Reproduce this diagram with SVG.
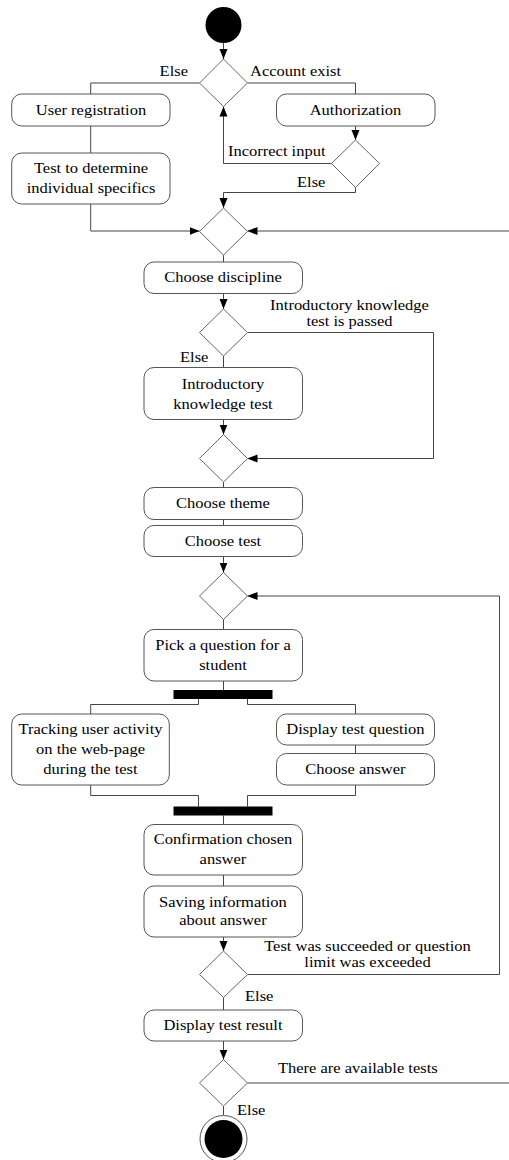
<svg xmlns="http://www.w3.org/2000/svg" width="509" height="1160" viewBox="0 0 509 1160" font-family="'Liberation Serif', 'Times New Roman', serif" font-size="15">
<style>
.box{fill:#fff;stroke:#555;stroke-width:1}
.dia{fill:#fff;stroke:#666;stroke-width:1}
.ln{fill:none;stroke:#444;stroke-width:1}
.arr{fill:none;stroke:#444;stroke-width:1;marker-end:url(#ah)}
text{font-family:'Liberation Serif','Times New Roman',serif;font-size:15px;fill:#000;transform-box:fill-box;transform-origin:center;transform:scaleX(1.1)}
.c{text-anchor:middle}
.s{transform-origin:left center}
.e{text-anchor:end;transform-origin:right center}
.bar{fill:#000}
</style>
<defs>
<marker id="ah" markerUnits="userSpaceOnUse" markerWidth="10" markerHeight="10" viewBox="0 0 10 10" refX="10" refY="5" orient="auto">
<path d="M0,1 L10,5 L0,9 Z" fill="#000"/>
</marker>
</defs>
<rect width="509" height="1160" fill="#fff"/>
<g id="connectors">
<path class="arr" d="M223.5,43 V59"/>
<path class="ln" d="M199.5,83 H90.7 V94"/>
<path class="ln" d="M247.5,83 H355.5 V94"/>
<path class="ln" d="M90.7,126 V153"/>
<path class="arr" d="M355.5,126 V140"/>
<path class="arr" d="M331.5,163.5 H223.5 V106.5"/>
<path class="arr" d="M355.5,187.5 V192.5 H223.5 V208"/>
<path class="arr" d="M90.7,204 V231 H199.5"/>
<path class="arr" d="M509,231 H247.5"/>
<path class="ln" d="M223.5,255 V262"/>
<path class="arr" d="M223.5,293.5 V309"/>
<path class="arr" d="M247.5,332.5 H433.5 V458.5 H247.5"/>
<path class="ln" d="M223.5,356 V367.5"/>
<path class="arr" d="M223.5,419.5 V434.5"/>
<path class="ln" d="M223.5,482 V487.5"/>
<path class="ln" d="M223.5,519.5 V525.5"/>
<path class="arr" d="M223.5,556.5 V572.5"/>
<path class="ln" d="M223.5,619.5 V629.5"/>
<path class="ln" d="M223.5,681 V690"/>
<path class="ln" d="M198.5,699 V704.5 H90.7 V714"/>
<path class="ln" d="M247.5,699 V704.5 H355.5 V714"/>
<path class="ln" d="M355.5,745 V753.5"/>
<path class="ln" d="M90.7,785 V795.5 H198.5 V806.5"/>
<path class="ln" d="M355.5,785 V795.5 H247.5 V806.5"/>
<path class="ln" d="M223.5,815.5 V824.5"/>
<path class="ln" d="M223.5,875 V886"/>
<path class="arr" d="M223.5,937 V951"/>
<path class="arr" d="M247.5,974.5 H499.5 V596 H247.5"/>
<path class="ln" d="M223.5,997.5 V1010"/>
<path class="arr" d="M223.5,1041 V1059.5"/>
<path class="ln" d="M247.5,1083 H509"/>
<path class="ln" d="M223.5,1106 V1115"/>
</g>
<g id="start"><circle cx="223.5" cy="25" r="18" fill="#000"/></g>
<g id="d1"><path class="dia" d="M223.5,59 L247.5,83 L223.5,106.5 L199.5,83 Z"/>
<text class="e" x="188" y="76">Else</text><text class="s" x="250" y="76">Account exist</text></g>
<g id="userReg"><rect class="box" x="11.7" y="94" width="158.3" height="32" rx="10"/><text class="c" x="91" y="115">User registration</text></g>
<g id="auth"><rect class="box" x="276.5" y="94" width="158.5" height="32" rx="10"/><text class="c" x="355.5" y="115">Authorization</text></g>
<g id="testSpec"><rect class="box" x="11.7" y="153" width="158.3" height="51" rx="10"/><text class="c" x="91" y="173.5">Test to determine</text><text class="c" x="91" y="193">individual specifics</text></g>
<g id="d2"><path class="dia" d="M355.5,140 L379.5,163.5 L355.5,187.5 L331.5,163.5 Z"/>
<text class="s" x="228" y="156">Incorrect input</text><text class="s" x="297" y="187">Else</text></g>
<g id="d3"><path class="dia" d="M223.5,208 L247.5,231.5 L223.5,255 L199.5,231.5 Z"/></g>
<g id="chooseDisc"><rect class="box" x="144" y="262" width="158.5" height="31.5" rx="10"/><text class="c" x="223" y="282.5">Choose discipline</text></g>
<g id="d4"><path class="dia" d="M223.5,309 L247.5,332.5 L223.5,356 L199.5,332.5 Z"/>
<text class="c" x="349.5" y="310.5">Introductory knowledge<tspan x="349.5" dy="15.5">test is passed</tspan></text><text class="s" x="180" y="362.5">Else</text></g>
<g id="introTest"><rect class="box" x="144" y="367.5" width="158.5" height="52" rx="10"/><text class="c" x="223" y="389.5">Introductory</text><text class="c" x="223" y="409">knowledge test</text></g>
<g id="d5"><path class="dia" d="M223.5,434.5 L247.5,458.5 L223.5,482 L199.5,458.5 Z"/></g>
<g id="chooseTheme"><rect class="box" x="144" y="487.5" width="158.5" height="32" rx="10"/><text class="c" x="223" y="508.5">Choose theme</text></g>
<g id="chooseTest"><rect class="box" x="144" y="525.5" width="158.5" height="31" rx="10"/><text class="c" x="223" y="546.5">Choose test</text></g>
<g id="d6"><path class="dia" d="M223.5,572.5 L247.5,596 L223.5,619.5 L199.5,596 Z"/></g>
<g id="pick"><rect class="box" x="144" y="629.5" width="158.5" height="51.5" rx="10"/><text class="c" x="223" y="650.5">Pick a question for a</text><text class="c" x="223" y="670">student</text></g>
<g id="fork"><rect class="bar" x="173.5" y="690" width="99" height="9"/></g>
<g id="tracking"><rect class="box" x="11.7" y="714" width="157.6" height="71" rx="10"/><text class="c" x="90.5" y="734.5">Tracking user activity</text><text class="c" x="90.5" y="754">on the web-page</text><text class="c" x="90.5" y="774">during the test</text></g>
<g id="displayQ"><rect class="box" x="276.5" y="714" width="158" height="31" rx="10"/><text class="c" x="355.5" y="734.5">Display test question</text></g>
<g id="chooseAns"><rect class="box" x="276.5" y="753.5" width="158" height="31.5" rx="10"/><text class="c" x="355.5" y="774">Choose answer</text></g>
<g id="join"><rect class="bar" x="173.5" y="806.5" width="99" height="9"/></g>
<g id="confirm"><rect class="box" x="144" y="824.5" width="158.5" height="50.5" rx="10"/><text class="c" x="223" y="844.5">Confirmation chosen</text><text class="c" x="223" y="864.5">answer</text></g>
<g id="saving"><rect class="box" x="144" y="886" width="158.5" height="51" rx="10"/><text class="c" x="223" y="907">Saving information</text><text class="c" x="223" y="925.5">about answer</text></g>
<g id="d7"><path class="dia" d="M223.5,951 L247.5,974.5 L223.5,997.5 L199.5,974.5 Z"/>
<text class="c" x="367.5" y="951">Test was succeeded or question<tspan x="367.5" dy="16">limit was exceeded</tspan></text><text class="s" x="245" y="1001.5">Else</text></g>
<g id="result"><rect class="box" x="144" y="1010" width="158.5" height="31" rx="10"/><text class="c" x="223" y="1030.5">Display test result</text></g>
<g id="d8"><path class="dia" d="M223.5,1059.5 L247.5,1083 L223.5,1106 L199.5,1083 Z"/>
<text class="s" x="278" y="1073.5">There are available tests</text><text class="s" x="237" y="1115">Else</text></g>
<g id="end"><circle cx="223.5" cy="1139" r="23.5" fill="#fff" stroke="#555"/><circle cx="223.5" cy="1139" r="19" fill="#000"/></g>
</svg>
